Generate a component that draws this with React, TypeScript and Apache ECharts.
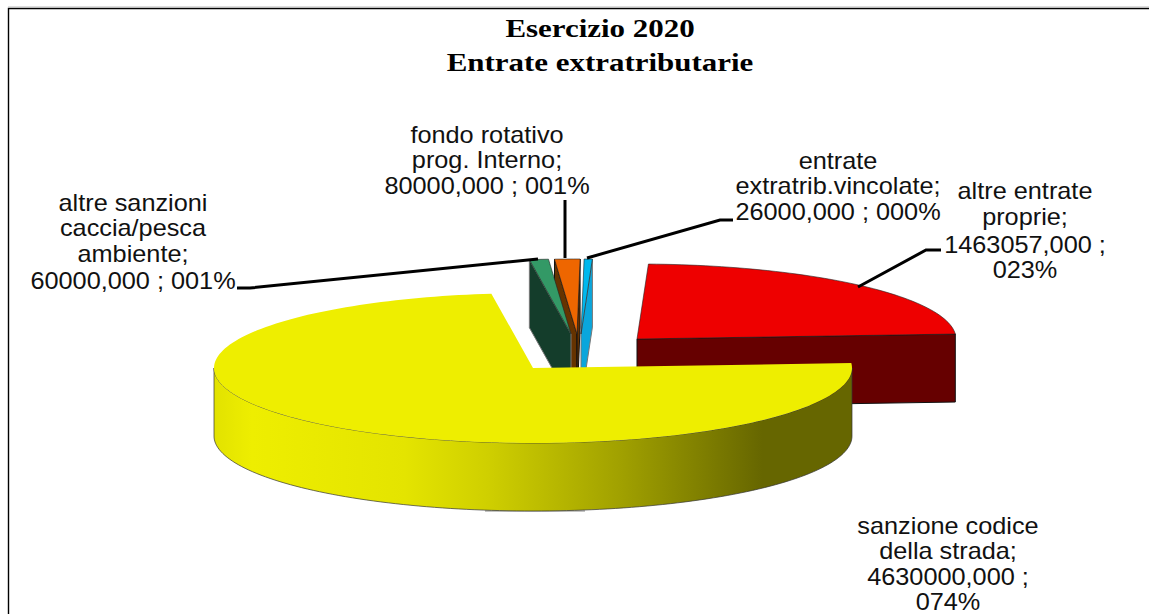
import React, { useEffect, useRef } from "react";
import * as echarts from "echarts";

const categories = [
  "sanzione codice della strada",
  "altre sanzioni caccia/pesca ambiente",
  "fondo rotativo prog. Interno",
  "entrate extratrib.vincolate",
  "altre entrate proprie",
];
const values = [4630000, 60000, 80000, 26000, 1463057];
const titleLines = ["Esercizio 2020", "Entrate extratributarie"];
const labelLines = [
  ["sanzione codice", "della strada;", "4630000,000 ;", "074%"],
  ["altre sanzioni", "caccia/pesca", "ambiente;", "60000,000 ; 001%"],
  ["fondo rotativo", "prog. Interno;", "80000,000 ; 001%"],
  ["entrate", "extratrib.vincolate;", "26000,000 ; 000%"],
  ["altre entrate", "proprie;", "1463057,000 ;", "023%"],
];

// layout and styling, one entry per slice, in the same order as the data
const RX = 319;
const RY = 75;
const DEPTH = 68;
const START_ANGLE = -3.8;
const sliceCenters = [
  [533, 368],
  [571, 334],
  [577, 334],
  [581, 334],
  [637, 339],
];
const topColors = ["#eeee00", "#339966", "#ee6600", "#00b8ee", "#ee0000"];
const sideColors = ["#666600", "#143d2b", "#663300", "#0aa6dc", "#660000"];
const drawOrder = [4, 3, 2, 1, 0];
const labelCenters = [948, 133, 487, 838, 1025];
const labelBaselines = [
  [526, 551, 577, 602],
  [203, 228, 254, 281],
  [135, 160, 186],
  [161, 186, 212],
  [191, 217, 245, 270],
];
const leaderLines = [
  [[237, 288], [250, 288], [538, 259]],
  [[565, 200], [565, 258]],
  [[587, 258], [720, 220], [733, 220]],
  [[858, 287], [926, 250], [941, 250]],
];

const total = values.reduce((a, b) => a + b, 0);
const sliceStarts: number[] = [];
values.reduce((acc, v, i) => {
  sliceStarts[i] = acc;
  return acc + (v / total) * 360;
}, START_ANGLE);

const rad = (d: number) => (d * Math.PI) / 180;

function arcPoints(cx: number, cy: number, a0: number, a1: number) {
  const steps = Math.max(2, Math.ceil(Math.abs(a1 - a0) / 1.5));
  const pts: number[][] = [];
  for (let i = 0; i <= steps; i++) {
    const t = rad(a0 + ((a1 - a0) * i) / steps);
    pts.push([cx + RX * Math.cos(t), cy + RY * Math.sin(t)]);
  }
  return pts;
}

function cutFace(cx: number, cy: number, angle: number) {
  const t = rad(angle);
  const px = cx + RX * Math.cos(t);
  const py = cy + RY * Math.sin(t);
  return [
    [cx, cy],
    [px, py],
    [px, py + DEPTH],
    [cx, cy + DEPTH],
  ];
}

function wallFill(index: number) {
  if (index !== 0) return sideColors[index];
  return new echarts.graphic.LinearGradient(0, 0, 1, 0, [
    { offset: 0, color: "#e2e200" },
    { offset: 0.06, color: "#eeee00" },
    { offset: 0.3, color: "#e4e400" },
    { offset: 0.43, color: "#cfcf00" },
    { offset: 0.64, color: "#a0a000" },
    { offset: 0.86, color: "#666600" },
    { offset: 1, color: "#666600" },
  ]);
}

function renderSlice(_: any, api: any) {
  const i = api.value(0);
  const v = api.value(1);
  const a0 = sliceStarts[i];
  const a1 = a0 + (v / total) * 360;
  const [cx, cy] = sliceCenters[i];
  const children: any[] = [];
  const faceStroke = i === 0 ? "#222" : i === 1 || i === 3 ? "#777" : "#111";

  [a0, a1].forEach((a, k) => {
    const dx = Math.cos(rad(a));
    const visible = k === 0 ? dx < 0 : dx > 0;
    if (visible) {
      children.push({
        type: "polygon",
        shape: { points: cutFace(cx, cy, a) },
        style: { fill: sideColors[i], stroke: faceStroke, lineWidth: 1 },
      });
    }
  });

  const wallFrom = Math.max(a0, 0);
  const wallTo = Math.min(a1, 180);
  if (wallTo > wallFrom) {
    const front = arcPoints(cx, cy, wallFrom, wallTo);
    const back = front.map(([x, y]) => [x, y + DEPTH]).reverse();
    children.push({
      type: "polygon",
      shape: { points: front.concat(back) },
      style: { fill: wallFill(i), stroke: "#333", lineWidth: 0.7 },
    });
  }

  children.push({
    type: "polygon",
    shape: { points: [[cx, cy] as number[]].concat(arcPoints(cx, cy, a0, a1)) },
    style: {
      fill: topColors[i],
      stroke: i === 0 ? undefined : "#222",
      lineWidth: i === 0 ? 0 : 0.6,
    },
  });

  return { type: "group", children };
}

export default function App() {
  const ref = useRef<HTMLDivElement>(null);
  useEffect(() => {
    const chart = echarts.init(ref.current!, null, { renderer: "svg" });
    const graphics: any[] = [
      {
        type: "polyline",
        z: 1,
        shape: { points: [[8.5, 640], [8.5, 8.5], [1160, 8.5]] },
        style: { fill: "none", stroke: "#000", lineWidth: 1.4 },
      },
      {
        type: "line",
        z: 1,
        shape: { x1: 8, y1: 7, x2: 1160, y2: 7 },
        style: { stroke: "#bbb", lineWidth: 1 },
      },
      {
        type: "line",
        z: 1,
        shape: { x1: 485, y1: 511, x2: 585, y2: 511 },
        style: { stroke: "#888", lineWidth: 1.2 },
      },
    ];
    titleLines.forEach((t, i) => {
      graphics.push({
        type: "text",
        z: 10,
        x: 600,
        y: [28, 62][i],
        scaleX: 1.19,
        style: {
          text: t,
          fill: "#000",
          font: 'bold 26px "Liberation Serif"',
          textAlign: "center",
          textVerticalAlign: "middle",
        },
      });
    });
    labelLines.forEach((lines, i) => {
      lines.forEach((t, j) => {
        graphics.push({
          type: "text",
          z: 10,
          x: labelCenters[i],
          y: labelBaselines[i][j],
          scaleX: 1.1,
          style: {
            text: t,
            fill: "#111",
            font: '23px "Liberation Sans"',
            textAlign: "center",
            textVerticalAlign: "middle",
          },
        });
      });
    });
    leaderLines.forEach((points) => {
      graphics.push({
        type: "polyline",
        z: 10,
        shape: { points },
        style: { fill: "none", stroke: "#000", lineWidth: 3 },
      });
    });
    chart.setOption({
      animation: false,
      backgroundColor: "#fff",
      graphic: graphics,
      series: [
        {
          type: "custom",
          coordinateSystem: "none",
          name: titleLines[1],
          renderItem: renderSlice,
          data: drawOrder.map((i) => ({ name: categories[i], value: [i, values[i]] })),
          silent: true,
        },
      ],
    });
    return () => chart.dispose();
  }, []);
  return (
    <div
      ref={ref}
      style={{ position: "absolute", left: 0, top: 0, width: 1149, height: 614 }}
    />
  );
}
